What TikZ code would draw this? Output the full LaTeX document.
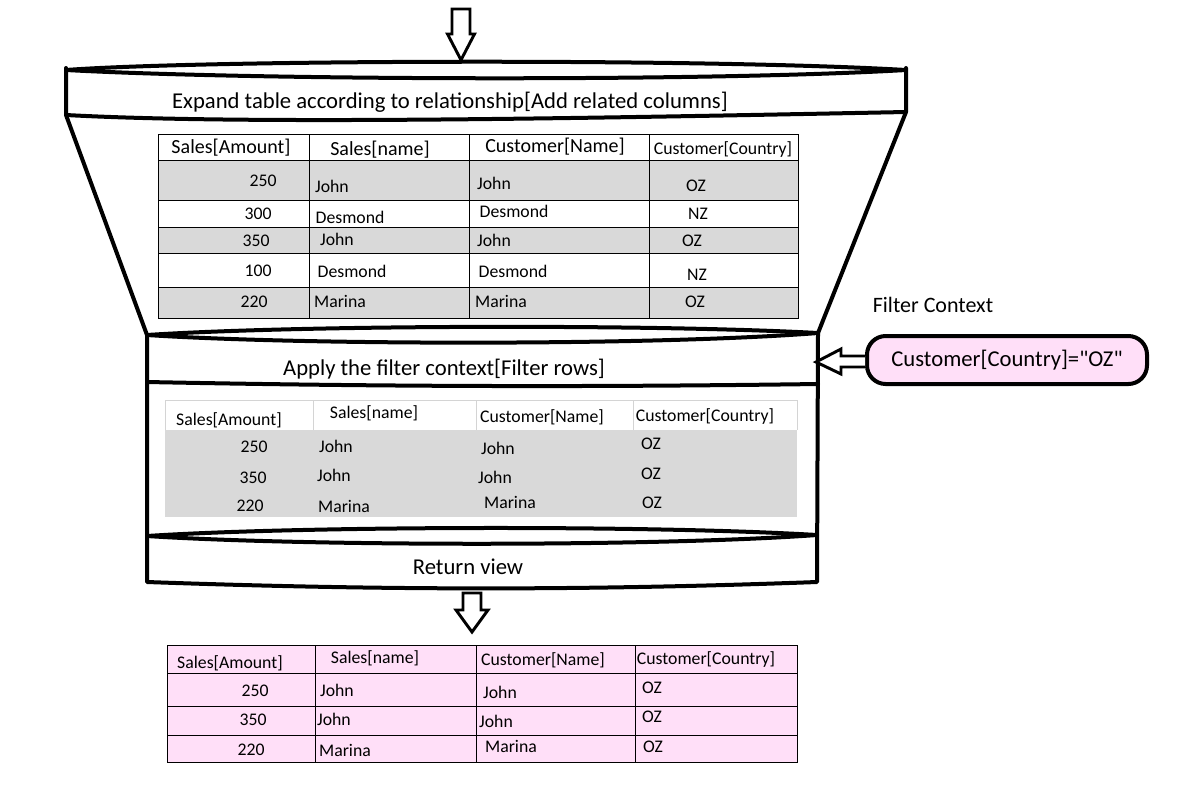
\documentclass[tikz,border=0pt]{standalone}
\usepackage{fontspec}
\setmainfont{Carlito}
\newfontfamily\plainfont{Carlito}
\usetikzlibrary{calc}

\definecolor{cellgray}{RGB}{217,217,217}
\definecolor{cellpink}{RGB}{255,223,248}
\definecolor{rulegray}{RGB}{212,212,212}

\tikzset{
  rim/.style={line width=3pt, line join=round, line cap=round},
  blockarrow/.style={draw, line width=2.2pt, fill=white, line join=miter},
  headtext/.style={font=\fontsize{17}{20}\selectfont, inner sep=0},
  celltext/.style={font=\fontsize{13.3}{16}\selectfont, inner sep=0},
  bigcell/.style={font=\fontsize{15}{18}\selectfont, inner sep=0},
  gridline/.style={line width=0.75pt},
}

\begin{document}
\begin{tikzpicture}[x=0.75pt,y=-0.75pt]
\useasboundingbox (0,0) rectangle (1198,811);

% the funnel: rim, expand band
\draw[rim] (66,70) .. controls (200,60) and (700,58) .. (906,70);
\draw[rim] (66,70) .. controls (250,80) and (700,82) .. (906,70);
\draw[rim] (66,68) -- (66,115) .. controls (250,125) and (600,118) .. (906,112) -- (906,68);
\draw[rim] (66,115) -- (147,335);
\draw[rim] (906,112) -- (818,333);
% filter band
\draw[rim] (147,335) .. controls (300,325) and (650,324) .. (818,333);
\draw[rim] (147,335) .. controls (300,345) and (650,346) .. (818,333);
\draw[rim] (147,382) .. controls (400,387) and (600,387) .. (818,384);
% return band
\draw[rim] (147,536) .. controls (300,526) and (650,525) .. (817,535);
\draw[rim] (147,536) .. controls (300,546) and (650,547) .. (817,535);
\draw[rim] (147,335) -- (147,582) .. controls (400,591) and (600,590) .. (817,582) -- (818,333);

\node[headtext] (expand) at (450,102) {Expand table according to relationship[Add related columns]};
\node[headtext] (apply) at (444,369) {Apply the filter context[Filter rows]};
\node[headtext] (ret) at (468,567) {Return view};

% arrows in and out
\coordinate (feed) at (461,60);
\draw[blockarrow] (feed) -- ++(-13.5,-26) -- ++(4.5,0) -- ++(0,-25) -- ++(18,0) -- ++(0,25) -- ++(4.5,0) -- cycle;
\coordinate (out) at (472,632);
\draw[blockarrow] (out) -- ++(-16,-22) -- ++(7,0) -- ++(0,-17) -- ++(18,0) -- ++(0,17) -- ++(7,0) -- cycle;

% filter context
\node[font=\fontsize{16.5}{20}\selectfont, inner sep=0] (fclabel) at (933,305) {Filter Context};
\node[draw, line width=3pt, fill=cellpink, rounded corners=14pt, minimum width=210pt,
      minimum height=36pt, font=\plainfont\fontsize{17}{20}\selectfont] (fc) at (1007,360) {Customer[Country]="OZ"};
\draw[blockarrow] ($(fc.west)+(0,-4)$) -- ++(-24,0) -- ++(0,-7) -- ++(-25,13) -- ++(25,12) -- ++(0,-7) -- ++(24,0);

% table 1: expanded
\fill[cellgray] (158,160) rectangle (798,200);
\fill[cellgray] (158,227) rectangle (798,253);
\fill[cellgray] (158,287) rectangle (798,318);
\draw[gridline] (158,134) rectangle (798,318);
\foreach \y in {160,200,227,253,287} \draw[gridline] (158,\y) -- (798,\y);
\foreach \x in {309,469,649} \draw[gridline] (\x,134) -- (\x,318);
\foreach \x/\y/\t [count=\i] in {231/148/Sales[Amount], 380/150/Sales[name], 555/147/Customer[Name]}
  \node[bigcell] (ah\i) at (\x,\y) {\t};
\node[celltext] (ah4) at (723,150) {Customer[Country]};
\foreach \x/\y/\t [count=\i] in {263/181/250, 332/186/John, 494/183/John, 696/186/OZ,
    258/214/300, 350/217/Desmond, 514/211/Desmond, 698/214/NZ,
    256/241/350, 337/239/John, 494/240/John, 692/241/OZ,
    258/271/100, 352/271/Desmond, 513/271/Desmond, 697/275/NZ,
    254/302/220, 340/301/Marina, 501/301/Marina, 695/302/OZ}
  \node[celltext] (ac\i) at (\x,\y) {\t};

% table 2: filtered
\fill[cellgray] (165,430) rectangle (797,517);
\draw[rulegray, gridline] (165,400) -- (797,400);
\foreach \x in {165,313,476,633,797} \draw[rulegray, gridline] (\x,400) -- (\x,430);
\foreach \x/\y/\t [count=\i] in {229/420/Sales[Amount], 374/413/Sales[name], 542/417/Customer[Name], 705/417/Customer[Country],
    254/447/250, 336/446/John, 498/448/John, 651/444/OZ,
    253/478/350, 334/475/John, 495/477/John, 651/474/OZ,
    250/506/220, 344/506/Marina, 510/502/Marina, 652/503/OZ}
  \node[celltext] (bc\i) at (\x,\y) {\t};

% table 3: result
\fill[cellpink] (167,645) rectangle (797,762);
\draw[gridline] (167,645) rectangle (797,762);
\foreach \y in {673,706,735} \draw[gridline] (167,\y) -- (797,\y);
\foreach \x in {315,476,635} \draw[gridline] (\x,645) -- (\x,762);
\foreach \x/\y/\t [count=\i] in {230/663/Sales[Amount], 375/658/Sales[name], 543/660/Customer[Name], 706/660/Customer[Country],
    255/691/250, 337/690/John, 500/692/John, 652/688/OZ,
    253/720/350, 334/719/John, 496/721/John, 652/717/OZ,
    251/750/220, 345/750/Marina, 511/746/Marina, 653/747/OZ}
  \node[celltext] (cc\i) at (\x,\y) {\t};
\end{tikzpicture}
\end{document}
